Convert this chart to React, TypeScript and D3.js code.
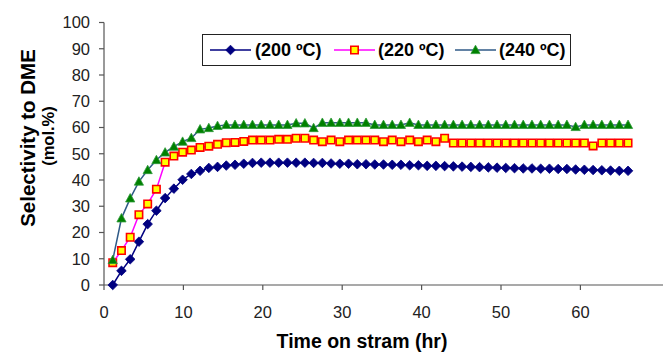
import React from "react";
import * as d3 from "d3";

// time on stream (hr) at which each sample was plotted
const times = [1.1,2.2,3.3,4.4,5.5,6.6,7.7,8.8,9.9,11.0,12.1,13.2,14.3,15.4,16.5,17.6,18.7,19.8,20.9,22.0,23.1,24.2,25.3,26.4,27.5,28.6,29.7,30.8,31.9,33.0,34.1,35.2,36.3,37.4,38.5,39.6,40.7,41.8,42.9,44.0,45.1,46.2,47.3,48.4,49.5,50.6,51.7,52.8,53.9,55.0,56.1,57.2,58.3,59.4,60.5,61.6,62.7,63.8,64.9,66.0];

const sel200 = [0,5.4,9.8,16.5,23.2,28.3,33.1,36.7,40.1,42.3,43.5,44.6,45.0,45.5,45.8,46.2,46.5,46.6,46.6,46.6,46.6,46.6,46.6,46.5,46.5,46.3,46.2,46.2,46.0,46.0,45.9,45.9,45.8,45.8,45.6,45.6,45.4,45.4,45.3,45.2,45.1,45.0,44.9,44.8,44.7,44.6,44.5,44.4,44.4,44.3,44.3,44.2,44.2,44.0,43.9,43.8,43.7,43.6,43.5,43.5];

const sel220 = [8.5,13.1,18.2,26.8,30.9,36.5,46.8,49.1,50.6,51.4,52.4,52.9,53.6,54.2,54.3,54.7,55.2,55.2,55.2,55.5,55.5,55.9,55.9,55.2,54.6,55.2,54.6,55.2,55.2,55.2,55.2,54.6,55.2,54.6,55.2,54.6,55.2,54.6,55.9,54.1,54.1,54.1,54.1,54.1,54.1,54.1,54.1,54.1,54.1,54.1,54.1,54.1,54.1,54.1,54.1,53.0,54.1,54.1,54.1,54.1];

const sel240 = [9.5,25.4,33.0,39.4,43.8,47.6,50.5,52.7,54.6,56.0,59.3,59.8,60.6,61.0,61.0,61.0,61.0,61.0,61.0,61.0,61.0,61.6,61.6,59.8,61.8,61.8,61.8,61.8,61.8,61.8,61.0,61.0,61.0,61.0,61.8,61.0,61.0,61.0,61.0,61.0,61.0,61.0,61.0,61.0,61.0,61.0,61.0,61.0,61.0,61.0,61.0,61.0,61.0,60.2,61.0,61.0,61.0,61.0,61.0,61.0];

const seriesNames = ["(200 ºC)", "(220 ºC)", "(240 ºC)"];
const xTicks = [0, 10, 20, 30, 40, 50, 60];
const yTicks = [0, 10, 20, 30, 40, 50, 60, 70, 80, 90, 100];

const W = 663, H = 354;
const FONT = "'Liberation Sans', Arial, sans-serif";

const x = d3.scaleLinear().domain([0, 70]).range([104, 659.8]);
const y = d3.scaleLinear().domain([0, 100]).range([285, 22.5]);

type Marker = "diamond" | "square" | "triangle";
const styles: { line: string; marker: Marker; fill: string; stroke: string }[] = [
  { line: "#000080", marker: "diamond", fill: "#000080", stroke: "#000080" },
  { line: "#FF00FF", marker: "square", fill: "#FFFF00", stroke: "#FF0000" },
  { line: "#2F5A87", marker: "triangle", fill: "#008000", stroke: "#2E9A3A" },
];

function markerPath(m: Marker): string {
  if (m === "diamond") return "M0,-4.8L4.8,0L0,4.8L-4.8,0Z";
  if (m === "square") return "M-3.7,-3.7H3.7V3.7H-3.7Z";
  return "M0,-4.8L4.6,3.6H-4.6Z";
}

export default function App() {
  const data = [sel200, sel220, sel240];
  const line = d3
    .line<number>()
    .x((_, i) => x(times[i]))
    .y((d) => y(d));

  const legendItems = [
    { lx: 210, tx: 255 },
    { lx: 334, tx: 378 },
    { lx: 455, tx: 499 },
  ];

  return (
    <svg
      width={W}
      height={H}
      style={{ position: "absolute", left: 0, top: 0, background: "#fff" }}
      fontFamily={FONT}
    >
      <rect x={0} y={0} width={W} height={H} fill="#fff" />
      {/* Y axis */}
      <line x1={x(0)} x2={x(0)} y1={y(100)} y2={y(0)} stroke="#555" strokeWidth={1.2} />
      {yTicks.map((t) => (
        <g key={"y" + t}>
          <line x1={x(0) - 5} x2={x(0)} y1={y(t)} y2={y(t)} stroke="#555" strokeWidth={1.2} />
          <text x={90} y={y(t)} dy="0.36em" textAnchor="end" fontSize={16.5} fill="#222">
            {t}
          </text>
        </g>
      ))}
      {/* X axis */}
      <line x1={x(0)} x2={W} y1={y(0)} y2={y(0)} stroke="#555" strokeWidth={1.2} />
      {xTicks.map((t) => (
        <g key={"x" + t}>
          <line x1={x(t)} x2={x(t)} y1={y(0)} y2={y(0) + 5} stroke="#555" strokeWidth={1.2} />
          <text x={x(t)} y={318} textAnchor="middle" fontSize={16.5} fill="#222">
            {t}
          </text>
        </g>
      ))}
      <text x={362} y={348} textAnchor="middle" fontSize={19.5} fontWeight="bold" fill="#000">
        Time on stram (hr)
      </text>
      <text
        transform="translate(35,138) rotate(-90)"
        textAnchor="middle"
        fontSize={20.5}
        fontWeight="bold"
        fill="#000"
      >
        Selectivity to DME
      </text>
      <text
        transform="translate(54,136) rotate(-90)"
        textAnchor="middle"
        fontSize={16.5}
        fontWeight="bold"
        fill="#000"
      >
        (mol.%)
      </text>

      {/* Series */}
      {data.map((vals, si) => (
        <g key={"s" + si}>
          <path d={line(vals) || ""} fill="none" stroke={styles[si].line} strokeWidth={1.5} />
          {vals.map((v, i) => (
            <path
              key={i}
              d={markerPath(styles[si].marker)}
              transform={`translate(${x(times[i])},${y(v)})`}
              fill={styles[si].fill}
              stroke={styles[si].stroke}
              strokeWidth={si === 1 ? 1.6 : 0.8}
            />
          ))}
        </g>
      ))}

      {/* Legend */}
      <rect x={202.5} y={34.5} width={368} height={31} fill="#fff" stroke="#222" strokeWidth={1} />
      {legendItems.map((it, si) => (
        <g key={"l" + si}>
          <line x1={it.lx} x2={it.lx + 41} y1={50} y2={50} stroke={styles[si].line} strokeWidth={1.5} />
          <path
            d={markerPath(styles[si].marker)}
            transform={`translate(${it.lx + 20.5},50)`}
            fill={styles[si].fill}
            stroke={styles[si].stroke}
            strokeWidth={si === 1 ? 1.6 : 0.8}
          />
          <text x={it.tx} y={50} dy="0.36em" fontSize={18} fontWeight="bold" fill="#000">
            {seriesNames[si]}
          </text>
        </g>
      ))}
    </svg>
  );
}
